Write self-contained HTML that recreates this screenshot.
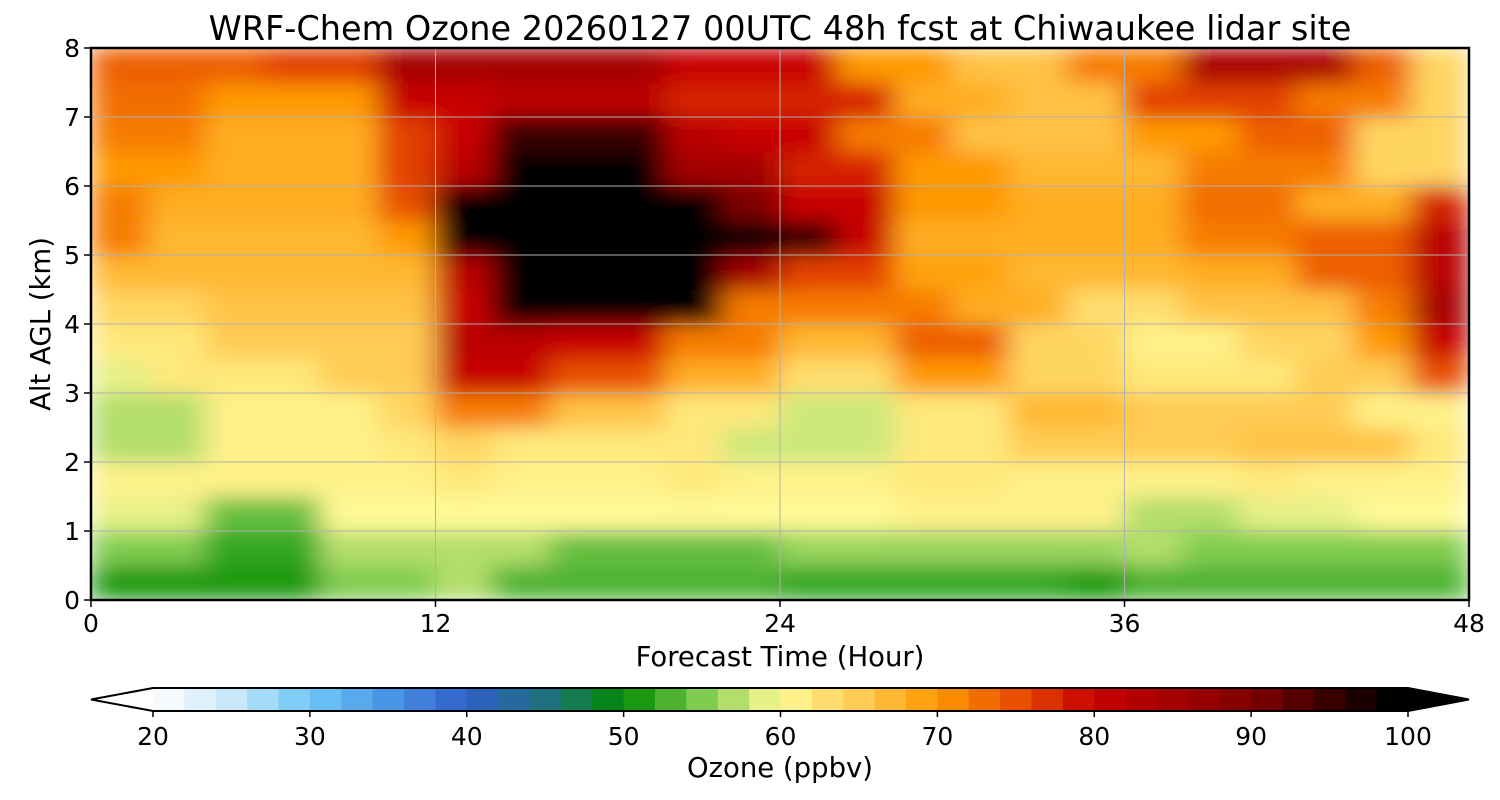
<!DOCTYPE html>
<html><head><meta charset="utf-8"><style>
html,body{margin:0;padding:0;background:#fff;}
svg{display:block;font-family:"DejaVu Sans","Liberation Sans",sans-serif;}
</style></head><body>
<svg id="chart" width="1500" height="800" viewBox="0 0 1500 800">
<defs>
<clipPath id="pc"><rect x="91" y="48" width="1378" height="552"/></clipPath>
<filter id="bl" x="0" y="0" width="1" height="1"><feGaussianBlur stdDeviation="14 10" edgeMode="duplicate"/></filter>
</defs>
<text x="780" y="40" font-size="33.5" text-anchor="middle">WRF-Chem Ozone  20260127 00UTC 48h fcst at Chiwaukee lidar site</text>
<g clip-path="url(#pc)"><g id="cells" filter="url(#bl)"></g></g>
<g id="grid"></g>
<rect x="91" y="48" width="1378" height="552" fill="none" stroke="#000" stroke-width="2.5"/>
<g id="axes"></g>
<text x="780" y="666" font-size="27.5" text-anchor="middle">Forecast Time (Hour)</text>
<text transform="translate(50,324) rotate(-90)" font-size="27.5" text-anchor="middle">Alt AGL (km)</text>
<g id="cbar"></g>
<text x="780" y="777" font-size="27.5" text-anchor="middle">Ozone  (ppbv)</text>
</svg>
<script>
const hours=[1,3,5,7,9,11,13,15,17,19,21,23,25,27,29,31,33,35,37,39,41,43,45,47];
const alts=[0.25,0.75,1.25,1.75,2.25,2.75,3.25,3.75,4.25,4.75,5.25,5.75,6.25,6.75,7.25,7.75];
const r0=[51,51,51,51,55,55,57,53,53,53,53,53,52,52,52,52,52,51,53,53,53,53,53,53];
const r1=[55,55,52,52,57,57,57,57,54,54,54,54,56,56,56,56,56,56,57,55,55,55,55,55];
const r2=[59,59,54,54,60,60,60,60,60,60,60,60,60,60,61,61,61,61,57,57,59,59,60,60];
const r3=[61,61,61,61,61,61,62,61,61,61,62,61,61,61,62,62,61,61,61,61,62,61,61,61];
const r4=[57,57,61,61,61,62,64,62,62,62,62,58,58,58,62,62,65,65,65,65,66,66,66,62];
const r5=[57,57,61,61,61,64,72,72,66,66,62,62,58,58,62,62,67,67,65,65,65,65,61,61];
const r6=[59,62,62,62,65,65,80,80,75,75,68,68,63,63,70,70,64,64,62,62,62,65,65,75];
const r7=[62,62,65,65,65,65,82,82,80,80,72,72,67,67,74,74,64,64,61,61,64,64,70,80];
const r8=[64,64,66,66,66,66,80,100,100,100,100,72,72,72,72,68,68,63,63,66,66,66,72,85];
const r9=[67,67,67,67,67,67,82,100,100,100,100,85,76,76,69,69,67,67,67,68,68,74,74,82];
const r10=[72,67,67,67,67,70,100,100,100,100,100,100,95,80,68,68,68,68,68,72,72,74,74,82];
const r11=[72,68,68,68,68,75,100,100,100,100,100,90,80,80,70,70,68,68,68,73,73,68,68,78];
const r12=[70,70,68,68,68,76,82,100,100,100,85,85,78,78,70,70,67,67,67,72,72,72,64,64];
const r13=[72,72,68,68,68,76,80,95,95,95,82,80,80,72,72,66,66,66,70,70,74,74,64,64];
const r14=[73,73,70,70,70,80,80,82,82,82,78,78,78,78,68,68,66,66,76,76,76,72,72,64];
const r15=[74,74,74,76,76,85,85,85,85,85,80,80,80,70,70,66,66,72,72,84,84,84,74,64];
const grid=[r0,r1,r2,r3,r4,r5,r6,r7,r8,r9,r10,r11,r12,r13,r14,r15];
const xTicks=[0,12,24,36,48];
const yTicks=[0,1,2,3,4,5,6,7,8];
const cTicks=[20,30,40,50,60,70,80,90,100];

const NS="http://www.w3.org/2000/svg";
const X=h=>91+h*1378/48, Y=a=>600-a*552/8, C=v=>153+(v-20)*(1408-153)/80;
const anchors=[[20,[255,255,255]],[25,[200,232,250]],[30,[110,200,248]],[35,[74,150,230]],[40,[48,96,200]],[45,[32,112,128]],[50,[0,140,0]],[55,[128,204,80]],[60,[255,250,150]],[65,[255,204,85]],[70,[255,153,0]],[75,[232,80,0]],[80,[200,0,0]],[90,[128,0,0]],[99,[0,0,0]],[100,[0,0,0]]];
function col(v){v=Math.max(20,Math.min(100,v));
 for(let i=0;i<anchors.length-1;i++){const a=anchors[i],b=anchors[i+1];
  if(v<=b[0]){const t=(v-a[0])/(b[0]-a[0]);const c=a[1].map((x,k)=>Math.round(x+(b[1][k]-x)*t));return `rgb(${c})`;}}
 return "#000";}
function mk(tag,attrs,parent){const e=document.createElementNS(NS,tag);for(const k in attrs)e.setAttribute(k,attrs[k]);parent.appendChild(e);return e;}
const cells=document.getElementById('cells');
grid.forEach((row,j)=>row.forEach((v,i)=>{
 const e=mk('rect',{x:X(hours[i]-1)-0.5,y:Y(alts[j]+0.25)-0.5,width:X(2)-X(0)+1,height:Y(0)-Y(0.5)+1,fill:col(v)},cells);
 
 
}));
const g=document.getElementById('grid');
xTicks.slice(1,-1).forEach(h=>{const e=mk('line',{x1:X(h),x2:X(h),y1:48,y2:600,stroke:'#b0b0b0','stroke-width':1},g);
 });
yTicks.slice(1,-1).forEach(a=>{const e=mk('line',{x1:91,x2:1469,y1:Y(a),y2:Y(a),stroke:'#b0b0b0','stroke-width':1},g);
 });
const ax=document.getElementById('axes');
xTicks.forEach(h=>{mk('line',{x1:X(h),x2:X(h),y1:600,y2:607,stroke:'#000','stroke-width':1.5},ax);
 const t=mk('text',{x:X(h),y:632,'font-size':25,'text-anchor':'middle'},ax);t.textContent=h;
 });
yTicks.forEach(a=>{mk('line',{x1:84,x2:91,y1:Y(a),y2:Y(a),stroke:'#000','stroke-width':1.5},ax);
 const t=mk('text',{x:80,y:Y(a)+9,'font-size':25,'text-anchor':'end'},ax);t.textContent=a;
 });
const cb=document.getElementById('cbar');
mk('polygon',{points:`153,688 91,699.5 153,711`,fill:'#fff'},cb);
mk('polygon',{points:`1408,688 1469,699.5 1408,711`,fill:'#000'},cb);
for(let v=20;v<100;v+=2){mk('rect',{x:C(v),y:688,width:C(v+2)-C(v)+0.6,height:23,fill:col(v+1)},cb);}
mk('polygon',{points:`153,688 1408,688 1469,699.5 1408,711 153,711 91,699.5`,fill:'none',stroke:'#000','stroke-width':2},cb);
cTicks.forEach(v=>{mk('line',{x1:C(v),x2:C(v),y1:711,y2:717,stroke:'#000','stroke-width':1.5},cb);
 const t=mk('text',{x:C(v),y:745,'font-size':25,'text-anchor':'middle'},cb);t.textContent=v;
 });
</script>
</body></html>
